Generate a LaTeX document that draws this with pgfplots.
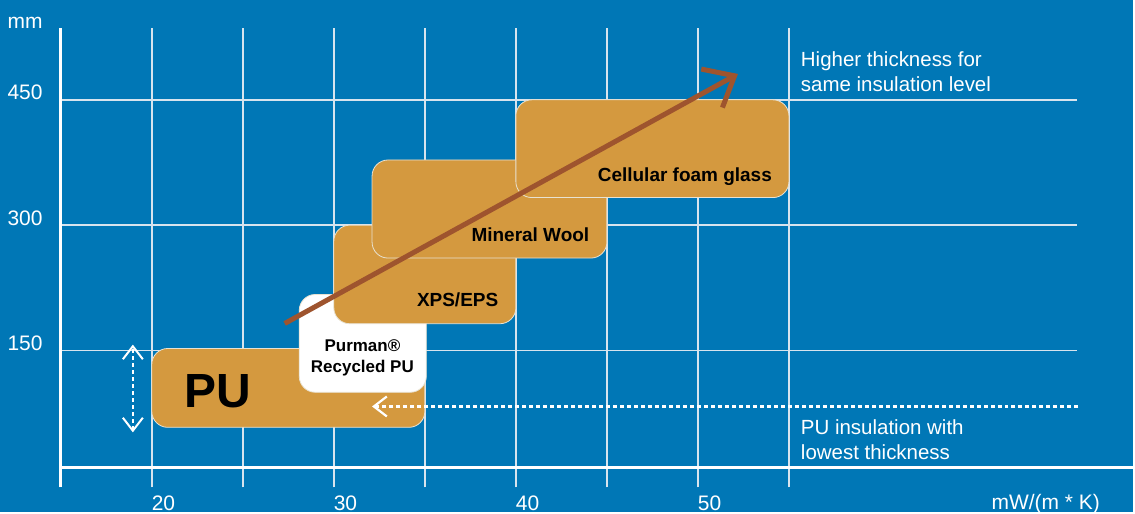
\documentclass[border=0pt]{standalone}
\usepackage{pgfplots}
\pgfplotsset{compat=1.18}
\usepackage{fontspec}
\setmainfont{Liberation Sans}
\usetikzlibrary{arrows.meta}
\definecolor{bgblue}{RGB}{0,119,182}
\definecolor{boxorange}{RGB}{212,153,63}
\definecolor{arrowbrown}{RGB}{158,84,46}
\definecolor{gridc}{RGB}{215,228,238}
\definecolor{edgec}{RGB}{232,226,210}
\begin{document}
\begin{tikzpicture}[every node/.append style={inner sep=0pt, outer sep=0pt}]
\begin{axis}[
  width=1135pt, height=513pt, scale only axis,
  xmin=11.662, xmax=73.92, ymin=-43.6, ymax=569.5,
  axis line style={draw=none},
  xtick=\empty, ytick=\empty,
  axis background/.style={fill=bgblue},
  clip=false,
]
% vertical grid lines
\addplot[gridc, line width=1.5pt] coordinates {(20,-13.7) (20,536)};
\addplot[gridc, line width=1.5pt] coordinates {(25,-13.7) (25,536)};
\addplot[gridc, line width=1.5pt] coordinates {(30,-13.7) (30,536)};
\addplot[gridc, line width=1.5pt] coordinates {(35,-13.7) (35,536)};
\addplot[gridc, line width=1.5pt] coordinates {(40,-13.7) (40,536)};
\addplot[gridc, line width=1.5pt] coordinates {(45,-13.7) (45,536)};
\addplot[gridc, line width=1.5pt] coordinates {(50,-13.7) (50,536)};
\addplot[gridc, line width=1.5pt] coordinates {(55,-13.7) (55,536)};
% horizontal grid lines
\addplot[gridc, line width=1.5pt] coordinates {(15,150) (70.85,150)};
\addplot[gridc, line width=1.5pt] coordinates {(15,300) (70.85,300)};
\addplot[gridc, line width=1.5pt] coordinates {(15,450) (70.85,450)};
% axes
\addplot[white, line width=3.3pt] coordinates {(15,-13.7) (15,536)};
\addplot[white, line width=3.3pt] coordinates {(15,10.2) (73.92,10.2)};
% boxes
\addplot[fill=boxorange, draw=edgec, line width=0.8pt, rounded corners=16pt] coordinates {(27.5,58) (35,58) (35,152.4) (20,152.4) (20,58)} -- cycle;
\addplot[fill=white, draw=edgec, line width=0.8pt, rounded corners=16pt] coordinates {(31.6,100) (35.08,100) (35.08,217) (28.1,217) (28.1,100)} -- cycle;
\addplot[fill=boxorange, draw=edgec, line width=0.8pt, rounded corners=16pt] coordinates {(35,182) (40,182) (40,300) (30,300) (30,182)} -- cycle;
\addplot[fill=boxorange, draw=edgec, line width=0.8pt, rounded corners=16pt] coordinates {(38.5,260.6) (45,260.6) (45,378) (32.1,378) (32.1,260.6)} -- cycle;
\addplot[fill=boxorange, draw=edgec, line width=0.8pt, rounded corners=16pt] coordinates {(47.5,333) (55,333) (55,450) (40,450) (40,333)} -- cycle;
% main arrow
\addplot[arrowbrown, line width=5pt, -{Straight Barb[length=26pt,width=44pt]}] coordinates {(27.3,182.3) (52.2,481)};
% dashed arrows
\addplot[white, line width=2pt, dash pattern=on 4pt off 3pt, {Straight Barb[length=13pt,width=20pt]}-{Straight Barb[length=13pt,width=20pt]}] coordinates {(18.96,52) (18.96,157)};
\addplot[white, line width=2.2pt, dash pattern=on 4pt off 3pt, -{Straight Barb[length=13pt,width=20pt]}] coordinates {(70.9,83) (32.1,83)};
% axis labels
\node[anchor=base east, white, font=\fontsize{21}{25}\selectfont] at (axis cs:14.0,535) {mm};
\node[anchor=base east, white, font=\fontsize{21}{25}\selectfont] at (axis cs:14.0,450) {450};
\node[anchor=base east, white, font=\fontsize{21}{25}\selectfont] at (axis cs:14.0,300) {300};
\node[anchor=base east, white, font=\fontsize{21}{25}\selectfont] at (axis cs:14.0,150) {150};
\node[anchor=base west, white, font=\fontsize{21}{25}\selectfont] at (axis cs:20,-41) {20};
\node[anchor=base west, white, font=\fontsize{21}{25}\selectfont] at (axis cs:30,-41) {30};
\node[anchor=base west, white, font=\fontsize{21}{25}\selectfont] at (axis cs:40,-41) {40};
\node[anchor=base west, white, font=\fontsize{21}{25}\selectfont] at (axis cs:50,-41) {50};
\node[anchor=base west, white, font=\fontsize{21}{25}\selectfont] at (axis cs:66.13,-40) {mW/(m * K)};
% annotations
\node[anchor=base west, white, font=\fontsize{20.5}{25}\selectfont] at (axis cs:55.66,489.4) {Higher thickness for};
\node[anchor=base west, white, font=\fontsize{20.5}{25}\selectfont] at (axis cs:55.66,459.6) {same insulation level};
\node[anchor=base west, white, font=\fontsize{20.5}{25}\selectfont] at (axis cs:55.66,49.6) {PU insulation with};
\node[anchor=base west, white, font=\fontsize{20.5}{25}\selectfont] at (axis cs:55.66,19.7) {lowest thickness};
% box labels
\node[anchor=base west, black, font=\bfseries\fontsize{48}{50}\selectfont] at (axis cs:21.81,81.9) {PU};
\node[anchor=base, black, font=\bfseries\fontsize{17}{22}\selectfont] at (axis cs:31.57,148.8) {Purman®};
\node[anchor=base, black, font=\bfseries\fontsize{17}{22}\selectfont] at (axis cs:31.57,123.7) {Recycled PU};
\node[anchor=base east, black, font=\bfseries\fontsize{19}{22}\selectfont] at (axis cs:39.03,202.6) {XPS/EPS};
\node[anchor=base east, black, font=\bfseries\fontsize{19}{22}\selectfont] at (axis cs:44.03,280.3) {Mineral Wool};
\node[anchor=base east, black, font=\bfseries\fontsize{19}{22}\selectfont] at (axis cs:54.06,352) {Cellular foam glass};
\end{axis}
\end{tikzpicture}
\end{document}
